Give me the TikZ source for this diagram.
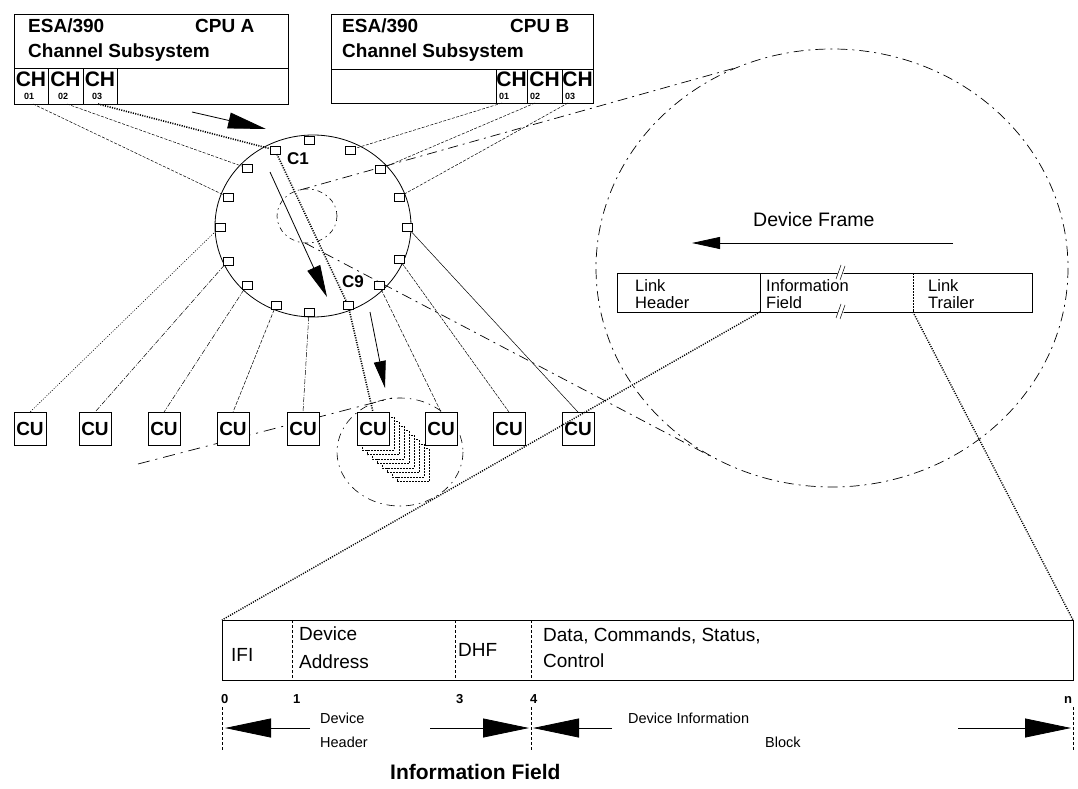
\documentclass[tikz,border=0pt]{standalone}
\usepackage{fontspec}
\setmainfont{Liberation Sans}
\usetikzlibrary{arrows.meta,calc}
\newcommand{\fsz}[1]{\fontsize{#1}{#1}\selectfont}
\begin{document}
\begin{tikzpicture}[x=1pt,y=-1pt,
  box/.style={draw, line width=0.8pt},
  chcell/.style={draw, line width=0.8pt, inner sep=0pt, outer sep=0pt},
  port/.style={draw, fill=white, line width=0.6pt, minimum width=10pt, minimum height=8pt, inner sep=0pt},
  cu/.style={draw, fill=white, line width=0.8pt, minimum width=32pt, minimum height=33pt, inner sep=0pt, font=\bfseries\fsz{19}},
  bl/.style={inner sep=0pt, font=\bfseries\fsz{19}},
  chtxt/.style={inner sep=0pt, font=\bfseries\fsz{21}},
  subtxt/.style={inner sep=0pt, font=\bfseries\fsz{9}, anchor=base west},
  ftxt/.style={inner sep=0pt, font=\fsz{16.5}, anchor=base west},
  itxt/.style={inner sep=0pt, font=\fsz{19}, anchor=base west},
  stxt/.style={inner sep=0pt, font=\fsz{14.5}, anchor=base west},
  ntxt/.style={inner sep=0pt, font=\bfseries\fsz{13}, anchor=base west},
  chline/.style={line width=0.5pt, dash pattern=on 3pt off 1.5pt},
  ldot/.style={line width=0.6pt, dash pattern=on 1pt off 1.5pt},
  ldd/.style={line width=0.5pt, dash pattern=on 5pt off 1.5pt on 1pt off 1.5pt},
  ldash/.style={line width=0.5pt, dash pattern=on 4pt off 1.5pt},
  lsolid/.style={line width=0.5pt},
  heavydot/.style={line width=1.6pt, dash pattern=on 1.1pt off 1.3pt},
  dashdot/.style={line width=0.7pt, dash pattern=on 10pt off 5pt on 2pt off 5pt},
  bigarrow/.style={line width=0.8pt, -{Triangle[length=38pt,width=16pt]}},
  midarrow/.style={line width=0.8pt, -{Triangle[length=32pt,width=14pt]}},
  smallarrow/.style={line width=0.8pt, -{Triangle[length=27pt,width=12pt]}},
  framearrow/.style={line width=0.8pt, -{Triangle[length=28pt,width=12pt]}},
  botarrow/.style={line width=0.8pt, -{Triangle[length=46pt,width=19pt]}},
  vdash/.style={line width=0.5pt, dash pattern=on 3pt off 2pt}
]
\useasboundingbox (0,0) rectangle (1078,789);

% ---------- CPU A ----------
\draw[box] (14,14) rectangle (288,104);
\draw[box] (14,68) -- (288,68);
\node[bl, anchor=base west] (aesa) at (28,33) {ESA/390};
\node[bl, anchor=base west] (acpu) at (195,33) {CPU A};
\node[bl, anchor=base west] (acss) at (28,58) {Channel Subsystem};
\node[chcell, minimum width=34pt, minimum height=36pt] (chA1) at (31,86) {};
\node[chcell, minimum width=35pt, minimum height=36pt] (chA2) at (65.5,86) {};
\node[chcell, minimum width=34pt, minimum height=36pt] (chA3) at (100,86) {};
\node[chtxt, anchor=base] (chA1t) at (31,87) {CH};
\node[chtxt, anchor=base] (chA2t) at (65.5,87) {CH};
\node[chtxt, anchor=base] (chA3t) at (100,87) {CH};
\node[subtxt] (chA1n) at (24,100) {01};
\node[subtxt] (chA2n) at (58,100) {02};
\node[subtxt] (chA3n) at (92,100) {03};

% ---------- CPU B ----------
\draw[box] (331,14) rectangle (593,103);
\draw[box] (331,69) -- (593,69);
\node[bl, anchor=base west] (besa) at (342,33) {ESA/390};
\node[bl, anchor=base west] (bcpu) at (510,33) {CPU B};
\node[bl, anchor=base west] (bcss) at (342,58) {Channel Subsystem};
\node[chcell, minimum width=31pt, minimum height=34pt] (chB1) at (511.5,86) {};
\node[chcell, minimum width=35pt, minimum height=34pt] (chB2) at (544.5,86) {};
\node[chcell, minimum width=31pt, minimum height=34pt] (chB3) at (577.5,86) {};
\node[chtxt, anchor=base] (chB1t) at (511.5,87) {CH};
\node[chtxt, anchor=base] (chB2t) at (544.5,87) {CH};
\node[chtxt, anchor=base] (chB3t) at (577.5,87) {CH};
\node[subtxt] (chB1n) at (499,100) {01};
\node[subtxt] (chB2n) at (530,100) {02};
\node[subtxt] (chB3n) at (565,100) {03};

% ---------- ring ----------
\draw[line width=0.8pt] (313,226) ellipse [x radius=98, y radius=91];
\draw[line width=0.6pt, dash pattern=on 5pt off 4pt on 1.5pt off 4pt] (307,216) ellipse [x radius=30, y radius=27];
\coordinate (stop) at (300,190);
\coordinate (sbot) at (305,243);
\coordinate (btop) at (735,68);
\coordinate (bbot) at (712,457);

% big zoom circle
\draw[dashdot] (832,268) ellipse [x radius=236, y radius=219];
\draw[dashdot] (stop) -- (btop);
\draw[dashdot] (sbot) -- (bbot);

% CU stack circle
\draw[line width=0.6pt, dash pattern=on 8pt off 5pt on 1.5pt off 5pt] (400,452) ellipse [x radius=63, y radius=54];
\coordinate (cutan) at (392,398);
\coordinate (cutanend) at (138,464);
\draw[dashdot, dash pattern=on 12pt off 6pt on 2pt off 6pt] (cutanend) -- (cutan);

% ports
\node[port] (pT)  at (309,140) {};
\node[port] (pA3) at (275,150) {};
\node[port] (pB1) at (350,150) {};
\node[port] (pA2) at (247,168) {};
\node[port] (pB2) at (380,169) {};
\node[port] (pA1) at (228,197) {};
\node[port] (pB3) at (399,197) {};
\node[port] (pc1) at (220,227) {};
\node[port, line width=1pt] (pc9) at (407,227) {};
\node[port] (pc2) at (228,261) {};
\node[port] (pc8) at (399,259) {};
\node[port] (pc3) at (247,285) {};
\node[port] (pc7) at (379,285) {};
\node[port] (pc4) at (276,305) {};
\node[port] (pc6) at (348,305) {};
\node[port] (pc5) at (309,312) {};

\node[inner sep=0pt, font=\bfseries\fsz{17}] (lc1) at (298,159) {C1};
\node[inner sep=0pt, font=\bfseries\fsz{17}] (lc9) at (353,282) {C9};

% ---------- CUs ----------
\foreach \i in {8,7,...,1}{
  \draw[line width=0.5pt, dash pattern=on 2pt off 1pt, fill=white]
    ($(373,429)+(-16,-16.5)+(5*\i,4.5*\i)$) rectangle ($(373,429)+(16,16.5)+(5*\i,4.5*\i)$);
}
\node[cu] (cu1) at (30,429) {CU};
\node[cu] (cu2) at (95,429) {CU};
\node[cu] (cu3) at (164,429) {CU};
\node[cu] (cu4) at (233,429) {CU};
\node[cu] (cu5) at (303,429) {CU};
\node[cu] (cu6) at (373,429) {CU};
\node[cu] (cu7) at (441,429) {CU};
\node[cu] (cu8) at (509,429) {CU};
\node[cu] (cu9) at (578,429) {CU};

% ---------- connections ----------
\draw[chline] (33,104) -- (pA1);
\draw[chline] (67,104) -- (pA2);
\draw[heavydot] (98,104) -- (pA3);
\draw[heavydot] (pA3) -- (pc6);
\draw[heavydot] (pc6) -- (cu6.north);
\draw[chline] (502,103) -- (pB1);
\draw[chline] (535,103) -- (pB2);
\draw[chline] (568,103) -- (pB3);

\draw[ldot] (pc1) -- (cu1.north);
\draw[ldd] (pc2) -- (cu2.north);
\draw[ldd] (pc3) -- (cu3.north);
\draw[ldash] (pc4) -- (cu4.north);
\draw[ldd] (pc5) -- (cu5.north);
\draw[ldash] (pc7) -- (cu7.north);
\draw[line width=0.5pt, dash pattern=on 3pt off 1pt] (pc8) -- (cu8.north);
\draw[lsolid] (pc9) -- (cu9.north);

% ---------- arrows ----------
\coordinate (a1s) at (192,112); \coordinate (a1e) at (266,129);
\draw[bigarrow] (a1s) -- (a1e);
\coordinate (a2s) at (270,172); \coordinate (a2e) at (327,297);
\draw[midarrow] (a2s) -- (a2e);
\coordinate (a3s) at (370,312); \coordinate (a3e) at (385,388);
\draw[smallarrow] (a3s) -- (a3e);

% ---------- device frame ----------
\node[inner sep=0pt, font=\fsz{19.5}, anchor=base west] (dftxt) at (753,226) {Device Frame};
\coordinate (dfs) at (953,243); \coordinate (dfe) at (692,243);
\draw[framearrow] (dfs) -- (dfe);
\node[draw, line width=0.8pt, inner sep=0pt, outer sep=0pt, minimum width=143pt, minimum height=39pt] (fLH) at (688.5,292.5) {};
\node[draw, line width=0.8pt, inner sep=0pt, outer sep=0pt, minimum width=153pt, minimum height=39pt] (fIF) at (836.5,292.5) {};
\node[draw, line width=0.8pt, inner sep=0pt, outer sep=0pt, minimum width=119pt, minimum height=39pt] (fLT) at (972.5,292.5) {};
\draw[white, line width=1.2pt] (913,274) -- (913,311);
\draw[line width=0.5pt, dash pattern=on 2pt off 1pt] (913,273) -- (913,312);
\node[ftxt] (tlh1) at (635,291) {Link};
\node[ftxt] (tlh2) at (635,308) {Header};
\node[ftxt] (tif1) at (766,291) {Information};
\node[ftxt] (tif2) at (766,308) {Field};
\node[ftxt] (tlt1) at (928,291) {Link};
\node[ftxt] (tlt2) at (928,308) {Trailer};
% break marks
\fill[white] (836,266) -- (842,266) -- (845,280) -- (839,280) -- cycle;
\draw[line width=0.5pt] (836,279) -- (841,265);
\draw[line width=0.5pt] (840,280) -- (845,266);
\fill[white] (836,305) -- (842,305) -- (845,319) -- (839,319) -- cycle;
\draw[line width=0.5pt] (836,318) -- (841,304);
\draw[line width=0.5pt] (840,319) -- (845,305);

% ---------- information field ----------
\node[draw, line width=0.8pt, inner sep=0pt, outer sep=0pt, minimum width=851pt, minimum height=60pt] (ifbox) at (647.5,650) {};
\draw[vdash] (292,620) -- (292,680);
\draw[vdash] (455,620) -- (455,680);
\draw[vdash] (531,620) -- (531,680);
\draw[heavydot, line width=1.4pt] (fIF.south west) -- (ifbox.north west);
\draw[heavydot, line width=1.4pt] (fLT.south west) -- (ifbox.north east);

\node[itxt] (tifi) at (231,661) {IFI};
\node[itxt] (tda1) at (299,640) {Device};
\node[itxt] (tda2) at (299,668) {Address};
\node[itxt] (tdhf) at (458,656) {DHF};
\node[itxt] (tdat1) at (543,641) {Data, Commands, Status,};
\node[itxt] (tdat2) at (543,667) {Control};

\node[ntxt] (n0) at (221,703) {0};
\node[ntxt] (n1) at (293,703) {1};
\node[ntxt] (n3) at (456,703) {3};
\node[ntxt] (n4) at (530,703) {4};
\node[ntxt] (nn) at (1064,703) {n};

\draw[vdash] (222,707) -- (222,750);
\draw[vdash] (531,707) -- (531,750);
\draw[vdash] (1073,707) -- (1073,750);

\coordinate (b1s) at (310,728); \coordinate (b1e) at (225,728);
\draw[botarrow] (b1s) -- (b1e);
\coordinate (b2s) at (430,728); \coordinate (b2e) at (529,728);
\draw[botarrow] (b2s) -- (b2e);
\coordinate (b3s) at (612,728); \coordinate (b3e) at (533,728);
\draw[botarrow] (b3s) -- (b3e);
\coordinate (b4s) at (958,728); \coordinate (b4e) at (1071,728);
\draw[botarrow] (b4s) -- (b4e);

\node[stxt] (tdh1) at (320,723) {Device};
\node[stxt] (tdh2) at (320,747) {Header};
\node[stxt] (tdib1) at (628,723) {Device Information};
\node[stxt] (tdib2) at (765,747) {Block};

\node[inner sep=0pt, font=\bfseries\fsz{21}, anchor=base west] (title) at (390,779) {Information Field};
\end{tikzpicture}
\end{document}
